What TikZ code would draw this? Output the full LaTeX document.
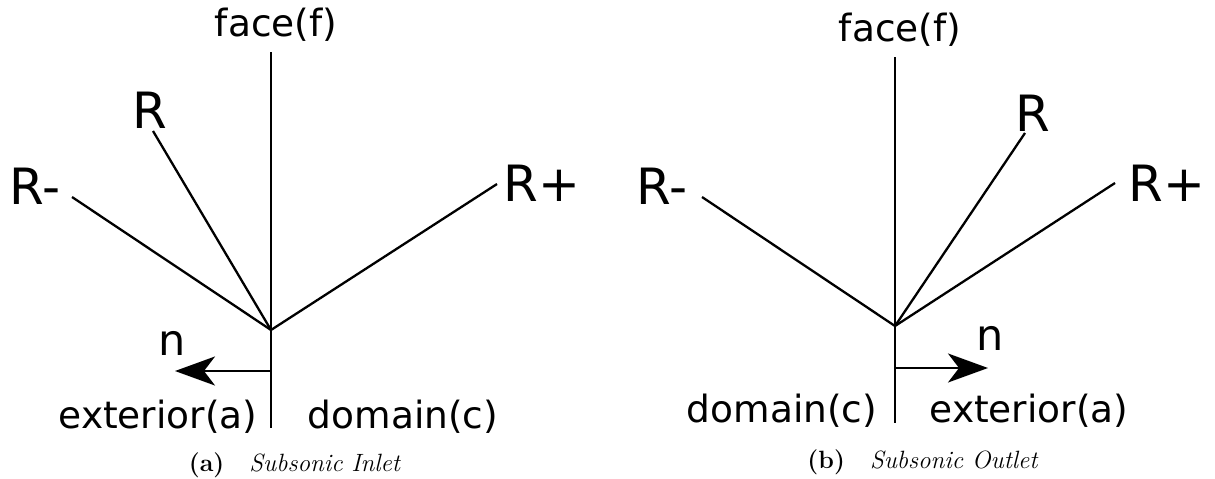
\documentclass[tikz,border=0pt]{standalone}
\usepackage{fontspec}
\newfontfamily\dejavu{DejaVu Sans}
\usetikzlibrary{arrows.meta}
\begin{document}
\begin{tikzpicture}[x=1pt,y=-1pt,
  ray/.style={line width=2.3pt},
  lbl/.style={inner sep=0pt,font=\dejavu\fontsize{37.5}{40}\selectfont},
  big/.style={inner sep=0pt,font=\dejavu\fontsize{50}{52}\selectfont},
  nlbl/.style={inner sep=0pt,font=\dejavu\fontsize{43}{45}\selectfont},
  nvec/.style={line width=2.3pt,-{Stealth[length=40pt,width=29pt,inset=11pt]}},
  captxt/.style={inner sep=0pt,font=\fontsize{25}{27}\selectfont}]
\useasboundingbox (0,0) rectangle (1215,479);
% ---- (a) Subsonic Inlet ----
\coordinate (va) at (271,330);
\coordinate (fa) at (271,52);
\coordinate (ba) at (271,428);
\coordinate (ra) at (153,131);
\coordinate (rma) at (72,197);
\coordinate (rpa) at (497,184);
\coordinate (sa) at (271,371);
\coordinate (ea) at (175,371);
\draw[ray] (fa) -- (va) -- (ba);
\draw[ray] (va) -- (ra);
\draw[ray] (va) -- (rma);
\draw[ray] (va) -- (rpa);
\draw[nvec] (sa) -- (ea);
\node[lbl] (facea) at (276,25) {face(f)};
\node[big] (Ra) at (150,110) {R};
\node[big] (Rma) at (35,186) {R-};
\node[big] (Rpa) at (542,183) {R+};
\node[nlbl] (na) at (172,343) {n};
\node[lbl] (exta) at (158,417) {exterior(a)};
\node[lbl] (doma) at (403,417) {domain(c)};
\node[captxt] (capa) at (295,465) {\textbf{(a)}\quad\textit{Subsonic Inlet}};
% ---- (b) Subsonic Outlet ----
\coordinate (vb) at (895,326);
\coordinate (fb) at (895,57);
\coordinate (bb) at (895,423);
\coordinate (rb) at (1025,133);
\coordinate (rmb) at (702,197);
\coordinate (rpb) at (1115,183);
\coordinate (sb) at (895,368);
\coordinate (eb) at (988,368);
\draw[ray] (fb) -- (vb) -- (bb);
\draw[ray] (vb) -- (rb);
\draw[ray] (vb) -- (rmb);
\draw[ray] (vb) -- (rpb);
\draw[nvec] (sb) -- (eb);
\node[lbl] (faceb) at (900,30) {face(f)};
\node[big] (Rb) at (1033,113) {R};
\node[big] (Rmb) at (662,186) {R-};
\node[big] (Rpb) at (1167,183) {R+};
\node[nlbl] (nb) at (990,338) {n};
\node[lbl] (domb) at (782,411) {domain(c)};
\node[lbl] (extb) at (1029,411) {exterior(a)};
\node[captxt] (capb) at (923,462) {\textbf{(b)}\quad\textit{Subsonic Outlet}};
\end{tikzpicture}
\end{document}
